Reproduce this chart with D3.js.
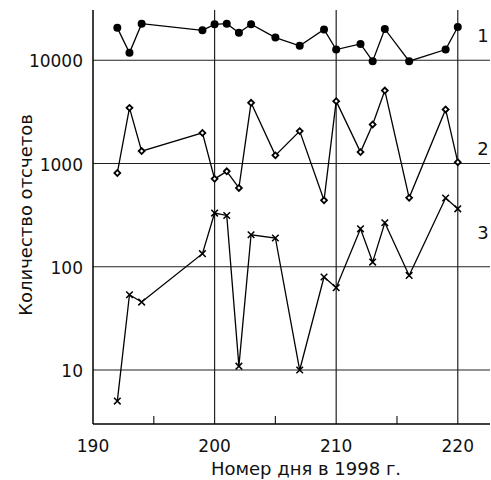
<!DOCTYPE html>
<html><head><meta charset="utf-8">
<script src="https://cdn.jsdelivr.net/npm/d3@7"></script>
<style>body{margin:0;background:#fff;}svg{display:block;font-family:"DejaVu Sans",Arial,sans-serif;}</style>
</head><body><div id="chart"></div>
<script>
const days = [192,193,194,199,200,201,202,203,205,207,209,210,212,213,214,216,219,220];
const series1 = [20600,11800,22600,19500,22300,22600,18500,22300,16600,13800,19900,12700,14400,9800,20100,9800,12700,21000];
const series2 = [810,3460,1320,1980,710,840,580,3870,1200,2060,440,4020,1290,2390,5090,465,3340,1030];
const series3 = [5.0,53.6,45.5,134,331,314,10.9,204,190,10.0,79.5,62.7,233,111,267,82.4,463,364];
const seriesLabels = ["1","2","3"];
const xTicks = [190,200,210,220];
const xMinorTicks = [195,205,215];
const yTicks = [10,100,1000,10000];
const xTitle = "Номер дня в 1998 г.";
const yTitle = "Количество отсчетов";

(function(){
const W=491,H=480;
const svg=d3.select("#chart").append("svg").attr("width",W).attr("height",H);
const mL=93,mR=490,mT=11,mB=424;
const x=d3.scaleLinear().domain([190,222.65]).range([mL,mR]);
const y=d3.scaleLog().domain([3,30000]).range([mB,mT]);

// gridlines
svg.append("g").selectAll("line").data(yTicks).join("line")
  .attr("x1",mL).attr("x2",mR).attr("y1",d=>y(d)).attr("y2",d=>y(d))
  .attr("stroke","#222").attr("stroke-width",1.2);
svg.append("g").selectAll("line").data(xTicks.filter(d=>d>190)).join("line")
  .attr("x1",d=>x(d)).attr("x2",d=>x(d)).attr("y1",mT-1).attr("y2",mB)
  .attr("stroke","#222").attr("stroke-width",1.2);
// minor ticks
svg.append("g").selectAll("line").data(xMinorTicks).join("line")
  .attr("x1",d=>x(d)).attr("x2",d=>x(d)).attr("y1",mB-8).attr("y2",mB)
  .attr("stroke","#222").attr("stroke-width",1.2);
// axes lines
svg.append("line").attr("x1",mL).attr("x2",mL).attr("y1",mT-1).attr("y2",mB).attr("stroke","#000").attr("stroke-width",1.5);
svg.append("line").attr("x1",mL).attr("x2",mR).attr("y1",mB).attr("y2",mB).attr("stroke","#000").attr("stroke-width",1.5);

// tick labels
svg.append("g").selectAll("text").data(xTicks).join("text")
  .attr("x",d=>x(d)).attr("y",452).attr("text-anchor","middle")
  .attr("font-size",17).attr("fill","#111").text(d=>d);
svg.append("g").selectAll("text").data(yTicks).join("text")
  .attr("x",83).attr("y",d=>y(d)+7).attr("text-anchor","end")
  .attr("font-size",17).attr("fill","#111").text(d=>d);

// titles
svg.append("text").attr("x",306).attr("y",475).attr("text-anchor","middle")
  .attr("font-size",18).attr("fill","#111").text(xTitle);
svg.append("text").attr("transform","translate(32,215) rotate(-90)").attr("text-anchor","middle")
  .attr("font-size",18).attr("fill","#111").text(yTitle);

const line=d3.line().x(d=>x(d[0])).y(d=>y(d[1]));
const all=[series1,series2,series3];
all.forEach((s,i)=>{
  const pts=days.map((d,j)=>[d,s[j]]);
  svg.append("path").datum(pts).attr("d",line).attr("fill","none").attr("stroke","#000").attr("stroke-width",1.3);
  const g=svg.append("g");
  if(i===0){
    g.selectAll("circle").data(pts).join("circle").attr("cx",d=>x(d[0])).attr("cy",d=>y(d[1])).attr("r",4).attr("fill","#000");
  } else if(i===1){
    g.selectAll("path").data(pts).join("path")
      .attr("d",d3.symbol(d3.symbolSquare2,22))
      .attr("transform",d=>`translate(${x(d[0])},${y(d[1])}) rotate(45)`)
      .attr("fill","#fff").attr("stroke","#000").attr("stroke-width",1.8);
  } else {
    g.selectAll("path").data(pts).join("path")
      .attr("d",d3.symbol(d3.symbolX,30))
      .attr("transform",d=>`translate(${x(d[0])},${y(d[1])})`)
      .attr("fill","none").attr("stroke","#000").attr("stroke-width",1.5);
  }
});

// series labels
const labelY=[35,148,232];
svg.append("g").selectAll("text").data(seriesLabels).join("text")
  .attr("x",483).attr("y",(d,i)=>labelY[i]+7).attr("text-anchor","middle")
  .attr("font-size",18).attr("fill","#111").text(d=>d);
})();
</script></body></html>
